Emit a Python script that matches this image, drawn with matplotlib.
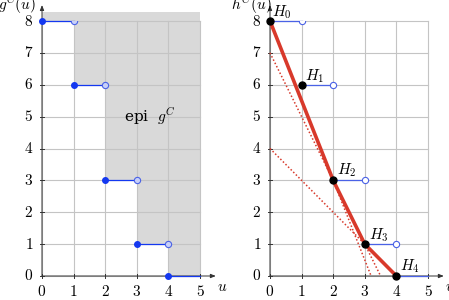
import numpy as np
import matplotlib.pyplot as plt
from matplotlib.patches import Polygon

plt.rcParams['mathtext.fontset'] = 'cm'
plt.rcParams['font.family'] = 'DejaVu Serif'

# step function values
u_vals = [0, 1, 2, 3, 4]
g_vals = [8, 6, 3, 1, 0]
# convex hull points H0..H4 (H1 is not on the hull)
hull_u = [0, 2, 3, 4]
hull_h = [8, 3, 1, 0]
h_labels = ['$H_0$', '$H_1$', '$H_2$', '$H_3$', '$H_4$']
x_ticks = [0, 1, 2, 3, 4, 5]
y_ticks = [0, 1, 2, 3, 4, 5, 6, 7, 8]

blue = '#1438f0'
blue2 = '#4a62e6'
red = '#d8392b'
grid_c = '#c4c4c4'

fig = plt.figure(figsize=(4.49, 3.0), dpi=100)
ax1 = fig.add_axes([42/449, 24/300, 158/449, 255/300])
ax2 = fig.add_axes([270/449, 24/300, 158/449, 255/300])


def base(ax, ylab, ylab_x):
    ax.set_xlim(0, 5)
    ax.set_ylim(0, 8)
    for s in ax.spines.values():
        s.set_visible(False)
    ax.set_xticks([])
    ax.set_yticks([])
    for x in x_ticks:
        ax.plot([x, x], [0, 8], color=grid_c, lw=0.8, zorder=1, clip_on=False)
        ax.plot([x, x], [-0.07, 0.07], color='#333333', lw=0.7, zorder=3, clip_on=False)
        ax.text(x, -0.25, '$%d$' % x, ha='center', va='top', fontsize=11)
    for y in y_ticks:
        ax.plot([0, 5], [y, y], color=grid_c, lw=0.8, zorder=1, clip_on=False)
        ax.plot([-0.07, 0.07], [y, y], color='#333333', lw=0.7, zorder=3, clip_on=False)
        ax.text(-0.28, y, '$%d$' % y, ha='right', va='center', fontsize=11)
    ax.annotate('', xy=(5.5, 0), xytext=(0, 0), annotation_clip=False,
                arrowprops=dict(arrowstyle='-|>,head_length=0.3,head_width=0.12',
                                color='#333333', lw=0.7, shrinkA=0, shrinkB=0), zorder=3)
    ax.annotate('', xy=(0, 8.5), xytext=(0, 0), annotation_clip=False,
                arrowprops=dict(arrowstyle='-|>,head_length=0.3,head_width=0.12',
                                color='#333333', lw=0.7, shrinkA=0, shrinkB=0), zorder=3)
    ax.text(5.55, -0.35, '$u$', ha='left', va='center', fontsize=11)
    ax.text(ylab_x, 8.5, ylab, ha='right', va='center', fontsize=11)


base(ax1, '$g^C(u)$', -0.2)
base(ax2, '$h^C(u)$', 0.05)

# epigraph shading
top = 8.28
pts = [(0, top)]
for i, u in enumerate(u_vals):
    pts.append((u, g_vals[i]))
    pts.append((u + 1, g_vals[i]))
pts.append((5, top))
ax1.add_patch(Polygon(pts, closed=True, facecolor='#d9d9d9', edgecolor='none',
                      zorder=0, clip_on=False))
ax1.text(3.4, 5.0, r'epi  $g^C$', ha='center', va='center', fontsize=11)

# step segments
for i, u in enumerate(u_vals):
    ax1.plot([u, u + 1], [g_vals[i], g_vals[i]], color=blue, lw=0.9, zorder=4, clip_on=False)
    ax1.plot(u, g_vals[i], 'o', color=blue, ms=4, zorder=5, clip_on=False)
    if u + 1 < 5:
        ax1.plot(u + 1, g_vals[i], 'o', mfc='#c8d0f8', mec=blue2, mew=0.8, ms=4.5, zorder=5)
    ax2.plot([u, u + 1], [g_vals[i], g_vals[i]], color=blue2, lw=0.9, zorder=4, clip_on=False)
    if u + 1 < 5:
        ax2.plot(u + 1, g_vals[i], 'o', mfc='white', mec=blue2, mew=0.8, ms=4.5, zorder=5)

# dotted extensions of hull segments
for i in range(len(hull_u) - 1):
    k = (hull_h[i + 1] - hull_h[i]) / (hull_u[i + 1] - hull_u[i])
    b = hull_h[i] - k * hull_u[i]
    ax2.plot([0, -b / k], [b, 0], color=red, lw=1.1, ls=(0, (1, 1.4)), zorder=5, clip_on=False)

ax2.plot(hull_u, hull_h, color=red, lw=2.6, zorder=6, solid_capstyle='round')
ax2.plot(u_vals, g_vals, 'o', color='black', ms=5, zorder=7, clip_on=False)

lab_dx = [0.38, 0.42, 0.43, 0.44, 0.42]
lab_dy = [0.28, 0.27, 0.32, 0.29, 0.31]
for i, u in enumerate(u_vals):
    ax2.text(u + lab_dx[i], g_vals[i] + lab_dy[i], h_labels[i], ha='center', va='center', fontsize=11)

fig.savefig('out.png', dpi=100)
